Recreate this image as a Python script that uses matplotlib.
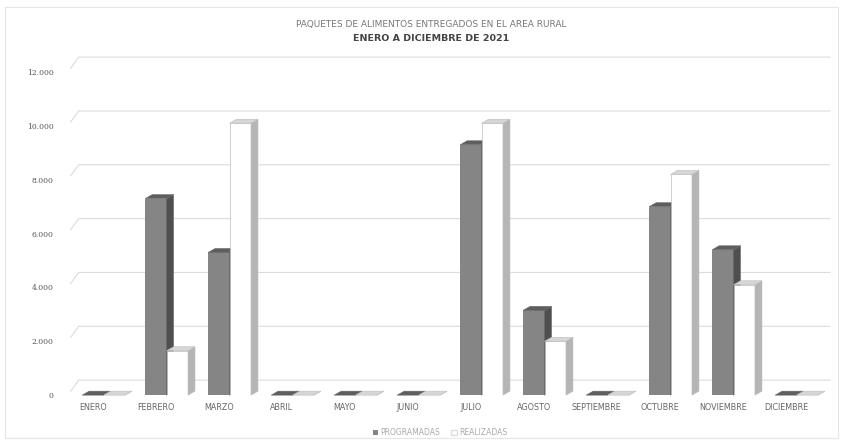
import matplotlib
matplotlib.use("Agg")
import matplotlib.pyplot as plt
from matplotlib.patches import Polygon, Rectangle, Patch
import numpy as np

months = ["ENERO", "FEBRERO", "MARZO", "ABRIL", "MAYO", "JUNIO", "JULIO",
          "AGOSTO", "SEPTIEMBRE", "OCTUBRE", "NOVIEMBRE", "DICIEMBRE"]
programadas = [0, 7300, 5300, 0, 0, 0, 9300, 3150, 0, 7000, 5400, 0]
realizadas = [0, 1650, 10100, 0, 0, 0, 10100, 2000, 0, 8200, 4100, 0]
yticks = [0, 2000, 4000, 6000, 8000, 10000, 12000]
ytick_labels = ["0", "2.000", "4.000", "6.000", "8.000", "10.000", "12.000"]

fig = plt.figure(figsize=(8.46, 4.45), dpi=100)
fig.patch.set_facecolor("white")
ax = fig.add_axes([0.080, 0.112, 0.901, 0.726])
ax.set_xlim(-0.4, 11.7)
ax.set_ylim(0, 12000)
for s in ax.spines.values():
    s.set_visible(False)

# outer chart border
fig.add_artist(Rectangle((0.006, 0.015), 0.984, 0.97, transform=fig.transFigure,
                         fill=False, edgecolor="#e6e6e6", lw=0.8))

# back wall gridlines (offset for pseudo-3D)
DX_G, DY_G = 11, 15
for v in yticks:
    x0, y0 = ax.transData.transform((-0.4, v))
    x1, _ = ax.transData.transform((11.7, v))
    ax.plot([x0 + 3, x0 + DX_G, x1], [y0 + 4, y0 + DY_G, y0 + DY_G], transform=None,
            color="#dcdcdc", lw=0.8, zorder=0, clip_on=False)

x = np.arange(len(months))
w = 0.34
DX, DY = 7, 4

def bar3d(xs, vals, front, side, top, edge):
    bars = ax.bar(xs, vals, width=w, color=front, edgecolor=edge, lw=0.5, zorder=3)
    for b in bars:
        xl = b.get_x(); xr = xl + b.get_width(); h = b.get_height()
        (pxl, py0) = ax.transData.transform((xl, 0))
        (pxr, pyh) = ax.transData.transform((xr, h))
        side_p = Polygon([(pxr, py0), (pxr + DX, py0 + DY), (pxr + DX, pyh + DY), (pxr, pyh)],
                         closed=True, transform=None, facecolor=side, edgecolor=edge, lw=0.4,
                         zorder=3, clip_on=False)
        top_p = Polygon([(pxl, pyh), (pxl + DX, pyh + DY), (pxr + DX, pyh + DY), (pxr, pyh)],
                        closed=True, transform=None, facecolor=top, edgecolor=edge, lw=0.4,
                        zorder=3, clip_on=False)
        ax.add_artist(side_p)
        ax.add_artist(top_p)
    return bars

bar3d(x, programadas, "#858585", "#4f4f4f", "#5e5e5e", "#6a6a6a")
bar3d(x + w, realizadas, "#ffffff", "#b5b5b5", "#d6d6d6", "#bdbdbd")

ax.axhline(0, color="#d0d0d0", lw=0.8, ls=(0, (1, 1)), zorder=1)

ax.set_yticks(yticks)
ax.set_yticklabels(ytick_labels, fontsize=5.5, color="#555555", family="DejaVu Serif")
ax.set_xticks(x)
ax.set_xticklabels(months, fontsize=5.8, color="#666666")
ax.tick_params(axis="x", length=0, pad=6)
ax.tick_params(axis="y", length=0, pad=10)

fig.text(0.51, 0.946, "PAQUETES DE ALIMENTOS ENTREGADOS EN EL AREA RURAL",
         ha="center", va="center", fontsize=6.5, color="#777777")
fig.text(0.51, 0.913, "ENERO A DICIEMBRE DE 2021", ha="center", va="center",
         fontsize=6.8, color="#444444", fontweight="bold")

leg = fig.legend(handles=[Patch(facecolor="#858585", label="PROGRAMADAS"),
                          Patch(facecolor="#ffffff", edgecolor="#dddddd", label="REALIZADAS")],
                 loc="center", bbox_to_anchor=(0.52, 0.028), ncol=2, frameon=False,
                 fontsize=5.5, handlelength=0.7, handleheight=0.7, columnspacing=1.5,
                 handletextpad=0.3)
for t in leg.get_texts():
    t.set_color("#aaaaaa")

fig.savefig("out.png", dpi=100, facecolor="white")
